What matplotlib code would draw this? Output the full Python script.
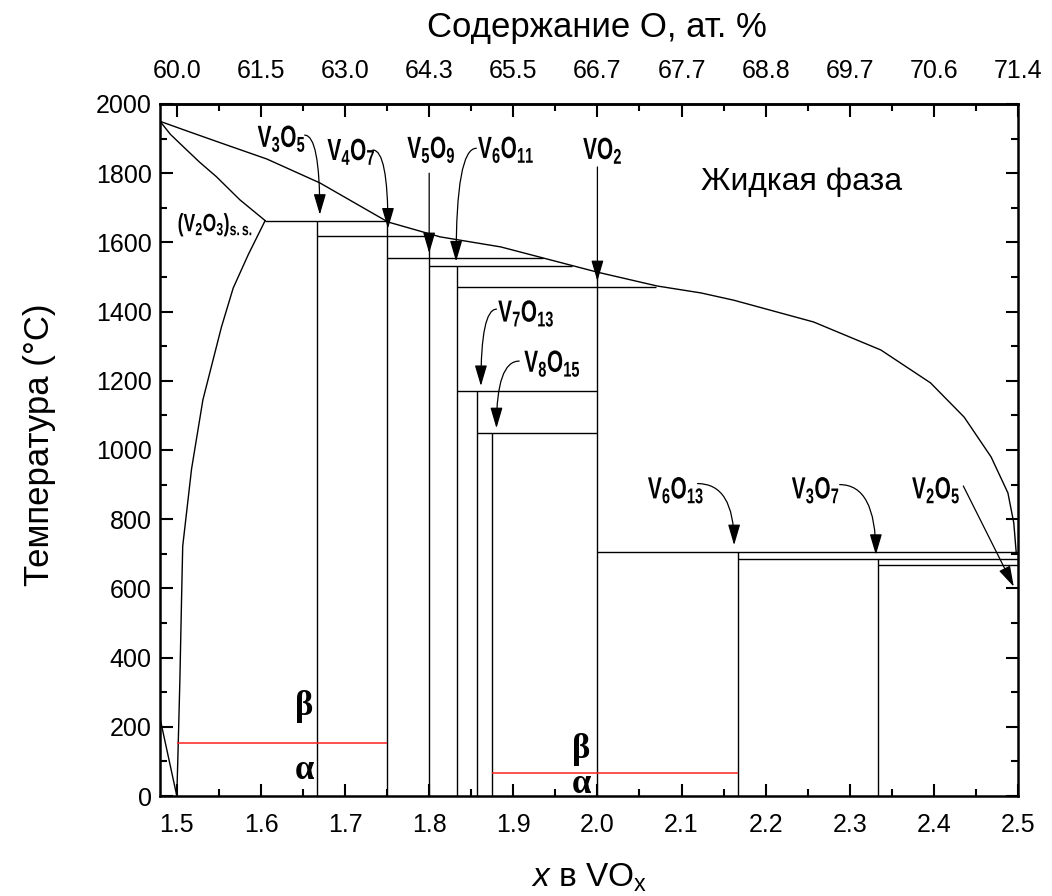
import matplotlib
matplotlib.use('Agg')
import matplotlib.pyplot as plt
from matplotlib import patheffects
from matplotlib.text import Text
from matplotlib.transforms import Affine2D, Bbox
from matplotlib.ticker import MultipleLocator

plt.rcParams['font.family'] = ['Liberation Sans', 'DejaVu Sans']
plt.rcParams['mathtext.fontset'] = 'custom'
plt.rcParams['mathtext.rm'] = 'Liberation Sans'
plt.rcParams['mathtext.it'] = 'Liberation Sans:italic'
plt.rcParams['mathtext.bf'] = 'Liberation Sans:bold'

# ---------------- data ----------------
liquidus_x = [1.48, 1.5075, 1.547, 1.607, 1.670, 1.751, 1.813, 1.885, 2.0, 2.071, 2.123,
              2.162, 2.257, 2.337, 2.396, 2.436, 2.468, 2.488, 2.495, 2.498]
liquidus_t = [1950, 1926, 1892, 1841, 1772, 1659, 1616, 1587, 1514, 1474, 1454,
              1433, 1370, 1289, 1194, 1095, 980, 876, 789, 700]

solvus_up_x = [1.48, 1.4925, 1.5075, 1.527, 1.547, 1.575, 1.605]
solvus_up_t = [1950, 1912, 1877, 1832, 1790, 1723, 1663]

solvus_low_x = [1.605, 1.585, 1.567, 1.553, 1.531, 1.5175, 1.507, 1.5055, 1.5036, 1.5016, 1.5]
solvus_low_t = [1663, 1565, 1468, 1355, 1145, 945, 722, 555, 332, 144, 0]

low_line_x = [1.48, 1.5]
low_line_t = [225, 0]

phase_x = [1.667, 1.75, 1.80, 1.833, 1.857, 1.875, 2.0, 2.167, 2.333]
phase_top = [1663, 1660, 1618, 1532, 1170, 1050, 1514, 705, 685]

hline_t = [1663, 1618, 1555, 1532, 1472, 1170, 1050, 705, 685, 668]
hline_x0 = [1.605, 1.667, 1.75, 1.80, 1.833, 1.833, 1.857, 2.0, 2.167, 2.333]
hline_x1 = [1.75, 1.80, 1.935, 1.97, 2.07, 2.0, 2.0, 2.5, 2.5, 2.5]

trans_t = [153, 66]
trans_x0 = [1.5, 1.875]
trans_x1 = [1.75, 2.167]

label_text = ['V_3O_5', 'V_4O_7', 'V_5O_9', 'V_6O_{11}', 'VO_2',
              'V_7O_{13}', 'V_8O_{15}', 'V_6O_{13}', 'V_3O_7', 'V_2O_5']
label_x = [1.596, 1.679, 1.774, 1.858, 1.983, 1.882, 1.913, 2.060, 2.231, 2.374]
label_t = [1876, 1838, 1844, 1844, 1841, 1371, 1226, 860, 860, 860]

arrow_x0 = [1.652, 1.733, 1.80, 1.856, 2.0, 1.880, 1.907, 2.119, 2.288, 2.435]
arrow_t0 = [1910, 1867, 1800, 1872, 1818, 1407, 1257, 903, 900, 896]
arrow_x1 = [1.670, 1.751, 1.80, 1.832, 2.0, 1.8615, 1.88, 2.1625, 2.331, 2.495]
arrow_t1 = [1680, 1640, 1569, 1545, 1488, 1185, 1063, 725, 697, 605]
arrow_curved = [True, True, False, True, False, True, True, True, True, False]

greek_text = ['β', 'α', 'β', 'α']
greek_x = [1.651, 1.652, 1.981, 1.981]
greek_t = [260, 75, 133, 32]

xticks = [1.5, 1.6, 1.7, 1.8, 1.9, 2.0, 2.1, 2.2, 2.3, 2.4, 2.5]
xtick_labels = ['1.5', '1.6', '1.7', '1.8', '1.9', '2.0', '2.1', '2.2', '2.3', '2.4', '2.5']
top_labels = ['60.0', '61.5', '63.0', '64.3', '65.5', '66.7', '67.7', '68.8', '69.7', '70.6', '71.4']
yticks = [0, 200, 400, 600, 800, 1000, 1200, 1400, 1600, 1800, 2000]


class Squeeze(patheffects.AbstractPathEffect):
    """Horizontally condense text glyphs (text stays a Text artist)."""
    def __init__(self, sx):
        super().__init__()
        self._sx = sx

    def draw_path(self, renderer, gc, tpath, affine, rgbFace=None):
        renderer.draw_path(gc, tpath, (Affine2D().scale(self._sx, 1.0) + affine).frozen(), rgbFace)


class CondensedText(Text):
    """Left-anchored text drawn horizontally condensed; extent reports the condensed box."""
    def __init__(self, x, y, s, sx=0.5, **kw):
        super().__init__(x, y, s, **kw)
        self._sx = sx
        self.set_path_effects([Squeeze(sx)])

    def get_window_extent(self, renderer=None, dpi=None):
        bb = super().get_window_extent(renderer, dpi)
        return Bbox.from_extents(bb.x0, bb.y0, bb.x0 + (bb.x1 - bb.x0) * self._sx, bb.y1)


fig = plt.figure(figsize=(10.52, 8.96), dpi=100)
ax = fig.add_axes([160 / 1052, 1 - 796 / 896, 858 / 1052, 692 / 896])
ax.set_xlim(1.48, 2.5)
ax.set_ylim(0, 2000)

lc = 'black'
lw = 1.0
ax.plot(liquidus_x, liquidus_t, color=lc, lw=lw)
ax.plot(solvus_up_x, solvus_up_t, color=lc, lw=lw)
ax.plot(solvus_low_x, solvus_low_t, color=lc, lw=lw)
ax.plot(low_line_x, low_line_t, color=lc, lw=lw)
ax.vlines(phase_x, 0, phase_top, color=lc, lw=lw)
ax.hlines(hline_t, hline_x0, hline_x1, color=lc, lw=lw)
ax.hlines(trans_t, trans_x0, trans_x1, color='#ff2020', lw=1.1)


def add_condensed(x, t, s, size, sx):
    txt = CondensedText(x, t, s, sx=sx, fontsize=size, fontweight='bold',
                        ha='left', va='baseline', transform=ax.transData)
    txt.set_clip_on(False)
    ax.add_artist(txt)


for txt, x, t in zip(label_text, label_x, label_t):
    add_condensed(x, t, r'$\mathregular{' + txt + '}$', 22, 0.68)

add_condensed(1.501, 1632, r'$\mathregular{(V_2O_3)_{s.s.}}$', 18, 0.7)

for x0, t0, x1, t1, cv in zip(arrow_x0, arrow_t0, arrow_x1, arrow_t1, arrow_curved):
    cs = 'angle3,angleA=0,angleB=90' if cv else 'arc3,rad=0'
    ax.annotate('', xy=(x1, t1), xytext=(x0, t0),
                arrowprops=dict(arrowstyle='-|>,head_length=0.85,head_width=0.25',
                                connectionstyle=cs, color='black', lw=0.9,
                                mutation_scale=15, shrinkA=0, shrinkB=0))

for g, x, t in zip(greek_text, greek_x, greek_t):
    ax.text(x, t, g, fontsize=25, family='Liberation Serif', fontweight='bold',
            ha='center', va='center')

ax.text(2.243, 1775, 'Жидкая фаза', fontsize=23, ha='center', va='center')

# ticks
ax.set_xticks(xticks)
ax.set_xticklabels(xtick_labels)
ax.set_yticks(yticks)
ax.xaxis.set_minor_locator(MultipleLocator(0.05))
ax.yaxis.set_minor_locator(MultipleLocator(100))
ax.tick_params(which='both', direction='in', top=False, right=True, width=1.5)
ax.tick_params(which='major', length=9)
ax.tick_params(which='minor', length=5)
ax.tick_params(axis='x', labelsize=18, pad=12)
ax.tick_params(axis='y', labelsize=18, pad=6)
for s in ax.spines.values():
    s.set_linewidth(1.8)

sec = ax.secondary_xaxis('top')
sec.set_xticks(xticks)
sec.set_xticklabels(top_labels)
sec.xaxis.set_minor_locator(MultipleLocator(0.05))
sec.tick_params(which='both', direction='in', width=1.5, labelsize=18, pad=15)
sec.tick_params(which='major', length=9)
sec.tick_params(which='minor', length=5)
sec.spines['top'].set_linewidth(1.8)

fig.text(597 / 1052, 1 - 28 / 896, 'Содержание O, ат. %', fontsize=25, ha='center', va='center')
fig.text(40 / 1052, 1 - 445 / 896, 'Температура (°C)', fontsize=25, rotation=90,
         ha='center', va='center')
fig.text(589 / 1052, 1 - 878 / 896, r'$\mathit{x}$ в VO$_\mathregular{x}$', fontsize=24,
         ha='center', va='center')

fig.savefig('out.png', dpi=100)
